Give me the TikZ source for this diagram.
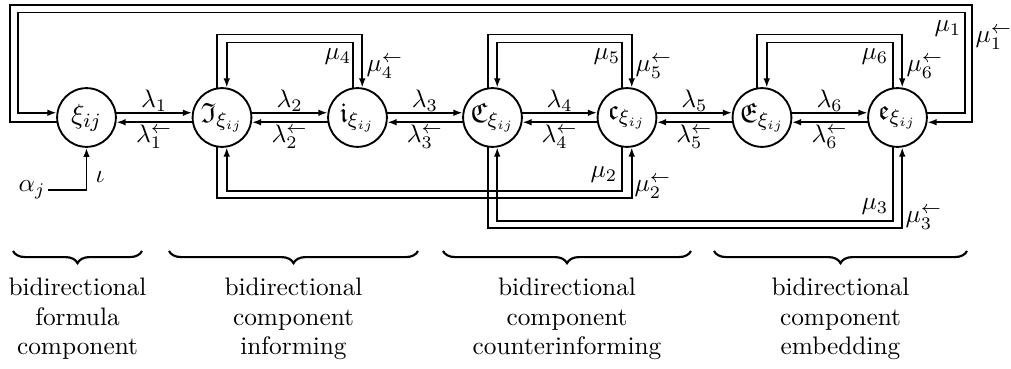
\documentclass[tikz,border=0pt]{standalone}
\usepackage{amssymb}
\usetikzlibrary{arrows.meta,decorations.pathreplacing}
\begin{document}
\begin{tikzpicture}[x=0.395pt,y=-0.395pt,
  st/.style={circle,draw,line width=0.75pt,minimum size=23.2pt,inner sep=0pt,font=\fontsize{11}{13}\selectfont},
  ln/.style={line width=0.75pt},
  arr/.style={ln,-{Latex[length=3.6pt,width=2.6pt]}},
  lab/.style={inner sep=0pt},
  brc/.style={line width=0.85pt,decorate,decoration={brace,mirror,amplitude=4.8pt}},
  txt/.style={align=center,font=\fontsize{10}{11.6}\selectfont,inner sep=0pt}]
\useasboundingbox (0,0) rectangle (1011,368);
% nodes
\node[st] (nxi) at (86.5,117.5) {$\xi_{ij}$};
\node[st] (nI)  at (222,117.5)  {$\mathfrak{I}_{\xi_{ij}}$};
\node[st] (ni)  at (357.5,117.5) {$\mathfrak{i}_{\xi_{ij}}$};
\node[st] (nC)  at (492.5,117.5) {$\mathfrak{C}_{\xi_{ij}}$};
\node[st] (nc)  at (627,117.5)  {$\mathfrak{c}_{\xi_{ij}}$};
\node[st] (nE)  at (762,117.5)  {$\mathfrak{E}_{\xi_{ij}}$};
\node[st] (ne)  at (897.5,117.5) {$\mathfrak{e}_{\xi_{ij}}$};
% lambda lanes
\draw[arr] (nxi.9) -- (nI.171);  \draw[arr] (nI.189) -- (nxi.351);
\draw[arr] (nI.9) -- (ni.171);   \draw[arr] (ni.189) -- (nI.351);
\draw[arr] (ni.9) -- (nC.171);   \draw[arr] (nC.189) -- (ni.351);
\draw[arr] (nC.9) -- (nc.171);   \draw[arr] (nc.189) -- (nC.351);
\draw[arr] (nc.9) -- (nE.171);   \draw[arr] (nE.189) -- (nc.351);
\draw[arr] (nE.9) -- (ne.171);   \draw[arr] (ne.189) -- (nE.351);
\node[lab] (l1) at (154.25,101) {$\lambda_1$}; \node[lab] (l1b) at (154.25,137) {$\lambda_1^{\leftarrow}$};
\node[lab] (l2) at (289.75,101) {$\lambda_2$}; \node[lab] (l2b) at (289.75,137) {$\lambda_2^{\leftarrow}$};
\node[lab] (l3) at (425,101) {$\lambda_3$};    \node[lab] (l3b) at (425,137) {$\lambda_3^{\leftarrow}$};
\node[lab] (l4) at (559.75,101) {$\lambda_4$}; \node[lab] (l4b) at (559.75,137) {$\lambda_4^{\leftarrow}$};
\node[lab] (l5) at (694.5,101) {$\lambda_5$};  \node[lab] (l5b) at (694.5,137) {$\lambda_5^{\leftarrow}$};
\node[lab] (l6) at (829.75,101) {$\lambda_6$}; \node[lab] (l6b) at (829.75,137) {$\lambda_6^{\leftarrow}$};
% mu1 big loop
\draw[arr] (ne.9) -| (965,12.5) -| (18,0 |- nxi.171) -- (nxi.171);
\draw[arr] (nxi.189) -| (10,5) -| (972,0 |- ne.351) -- (ne.351);
\node[lab] (m1) at (948,29) {$\mu_1$}; \node[lab] (m1b) at (994,38) {$\mu_1^{\leftarrow}$};
% mu4
\draw[arr] (ni.99) -- (ni.99 |- 0,42.5) -| (nI.81);
\draw[arr] (nI.99) -- (nI.99 |- 0,34.5) -| (ni.81);
\node[lab] (m4) at (338,57) {$\mu_4$}; \node[lab] (m4b) at (385,67) {$\mu_4^{\leftarrow}$};
% mu5
\draw[arr] (nc.99) -- (nc.99 |- 0,42.5) -| (nC.81);
\draw[arr] (nC.99) -- (nC.99 |- 0,34.5) -| (nc.81);
\node[lab] (m5) at (607,57) {$\mu_5$}; \node[lab] (m5b) at (654,67) {$\mu_5^{\leftarrow}$};
% mu6
\draw[arr] (ne.99) -- (ne.99 |- 0,42.5) -| (nE.81);
\draw[arr] (nE.99) -- (nE.99 |- 0,34.5) -| (ne.81);
\node[lab] (m6) at (875,57) {$\mu_6$}; \node[lab] (m6b) at (925,67) {$\mu_6^{\leftarrow}$};
% mu2
\draw[arr] (nc.261) -- (nc.261 |- 0,191) -| (nI.279);
\draw[arr] (nI.261) -- (nI.261 |- 0,198) -| (nc.279);
\node[lab] (m2) at (604,175) {$\mu_2$}; \node[lab] (m2b) at (653,187) {$\mu_2^{\leftarrow}$};
% mu3
\draw[arr] (ne.261) -- (ne.261 |- 0,221) -| (nC.279);
\draw[arr] (nC.261) -- (nC.261 |- 0,228) -| (ne.279);
\node[lab] (m3) at (875,207) {$\mu_3$}; \node[lab] (m3b) at (924,218) {$\mu_3^{\leftarrow}$};
% input
\node[lab] (alpha) at (32,190) {$\alpha_j$};
\draw[arr] (alpha.east) ++(2,0) -| (nxi.south);
\node[lab] (iota) at (100,177) {$\iota$};
% braces
\draw[brc] (13,251) -- (142,251);
\draw[brc] (169,251) -- (418,251);
\draw[brc] (443,251) -- (691,251);
\draw[brc] (714,251) -- (967,251);
\node[txt] (t1) at (77.5,319) {bidirectional\\formula\\component};
\node[txt] (t2) at (293.5,319) {bidirectional\\component\\informing};
\node[txt] (t3) at (567,319) {bidirectional\\component\\counterinforming};
\node[txt] (t4) at (840.5,319) {bidirectional\\component\\embedding};
\end{tikzpicture}
\end{document}
